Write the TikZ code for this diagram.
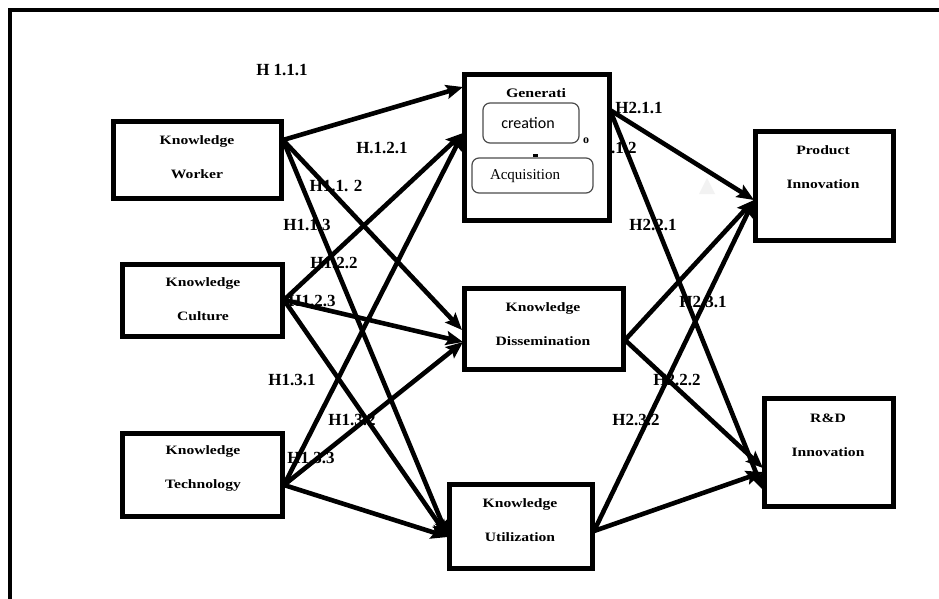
\documentclass[tikz,border=0pt]{standalone}
\usepackage{fontspec}
\setmainfont{Liberation Serif}
\newfontfamily\boxfont[FakeStretch=1.22]{Liberation Serif}
\newfontfamily\calfont{Carlito}
\usetikzlibrary{arrows.meta}
\begin{document}
\begin{tikzpicture}[x=1pt,y=-1pt,
 box/.style={draw, line width=4.5pt, fill=white, inner sep=0pt},
 boxtext/.style={font=\boxfont\bfseries\fontsize{12.8}{34}\selectfont, align=center, inner sep=0pt},
 hlab/.style={font=\bfseries\fontsize{17}{17}\selectfont, inner sep=0pt},
 rbox/.style={draw=black!70, line width=1.2pt, rounded corners=7pt, inner sep=0pt, fill=white},
 arr/.style={line width=4.6pt, -{Stealth[length=17pt,width=14pt,inset=3pt]}},
]
\useasboundingbox (0,0) rectangle (939,598);
\fill[white] (0,0) rectangle (939,598);
% outer frame
\draw[line width=4.5pt] (10,605) -- (10,10) -- (945,10);

% hypothesis labels
\node[hlab] (l111) at (282,70) {H 1.1.1};
\node[hlab] (l121) at (382,148) {H.1.2.1};
\node[hlab] (l112) at (336,186) {H1.1. 2};
\node[hlab] (l113) at (307,225) {H1.1.3};
\node[hlab] (l122) at (334,263) {H1.2.2};
\node[hlab] (l123) at (312,301) {H1.2.3};
\node[hlab] (l131) at (292,380) {H1.3.1};
\node[hlab] (l132) at (352,420) {H1.3.2};
\node[hlab] (l133) at (311,458) {H1.3.3};
\node[hlab] (l211) at (639,108) {H2.1.1};
\node[hlab] (l212) at (613,148) {H2.1.2};
\node[hlab] (l221) at (653,225) {H2.2.1};
\node[hlab] (l231) at (703,302) {H2.3.1};
\node[hlab] (l222) at (677,380) {H2.2.2};
\node[hlab] (l232) at (636,420) {H2.3.2};

% faint triangle
\fill[gray!10] (699,194) -- (715,194) -- (707,178) -- cycle;

% boxes
\node[box, minimum width=168pt, minimum height=77pt] (w) at (197.5,160) {};
\node[box, minimum width=160pt, minimum height=72pt] (c) at (202.5,300.5) {};
\node[box, minimum width=160pt, minimum height=83pt] (t) at (202.5,475) {};
\node[box, minimum width=145pt, minimum height=146pt] (g) at (537,147.5) {};
\node[box, minimum width=159pt, minimum height=81pt] (d) at (544,329) {};
\node[box, minimum width=143pt, minimum height=84pt] (u) at (521,526.5) {};
\node[box, minimum width=138pt, minimum height=109pt] (p) at (824.5,186) {};
\node[box, minimum width=129pt, minimum height=108pt] (r) at (829,452.5) {};

% box texts
\node[boxtext] (wt) at (197,157) {Knowledge\\Worker};
\node[boxtext] (ct) at (203,299) {Knowledge\\Culture};
\node[boxtext] (tt) at (203,468) {Knowledge\\Technology};
\node[boxtext] (dt) at (543,324) {Knowledge\\Dissemination};
\node[boxtext] (ut) at (520,520) {Knowledge\\Utilization};
\node[boxtext] (pt) at (823,167) {Product\\Innovation};
\node[boxtext] (rt) at (828,435) {R\&D\\Innovation};

% generation box contents
\node[font=\boxfont\bfseries\fontsize{13}{13}\selectfont, inner sep=0pt] (gt) at (536,93) {Generati};
\node[rbox, minimum width=96pt, minimum height=40pt] (cr) at (531,123) {};
\node[font=\calfont\fontsize{16}{16}\selectfont, inner sep=0pt] (crt) at (528,123) {creation};
\node[font=\bfseries\fontsize{12}{12}\selectfont, inner sep=0pt] (o) at (586,141) {o};
\fill (533,154) rectangle (538,156.5);
\node[rbox, minimum width=121pt, minimum height=35pt] (aq) at (532.5,175.5) {};
\node[font=\fontsize{15}{15}\selectfont, inner sep=0pt] (aqt) at (525,176) {Acquisition};

% ports
\coordinate (wR) at (283,140);
\coordinate (cR) at (284,300);
\coordinate (tR) at (284,485);
\coordinate (gL1) at (463,87);
\coordinate (gL2) at (463,133);
\coordinate (gR) at (610,110);
\coordinate (dL1) at (462,330);
\coordinate (dL2) at (463,342);
\coordinate (dR) at (625,340);
\coordinate (uL) at (448,537);
\coordinate (uR) at (594,531);
\coordinate (pL) at (754,200);
\coordinate (rL1) at (763,468);
\coordinate (rL2) at (763,490);
\coordinate (rL3) at (763,472);

% arrows, first stage
\draw[arr] (wR) -- (gL1);
\draw[arr] (wR) -- (dL1);
\draw[arr] (wR) -- (uL);
\draw[arr] (cR) -- (gL2);
\draw[arr] (cR) -- (dL2);
\draw[arr] (cR) -- (uL);
\draw[arr] (tR) -- (gL2);
\draw[arr] (tR) -- (dL2);
\draw[arr] (tR) -- (uL);

% arrows, second stage
\draw[arr] (gR) -- (pL);
\draw[arr] (gR) -- (rL2);
\draw[arr] (dR) -- (pL);
\draw[arr] (dR) -- (rL1);
\draw[arr] (uR) -- (pL);
\draw[arr] (uR) -- (rL3);
\end{tikzpicture}
\end{document}
